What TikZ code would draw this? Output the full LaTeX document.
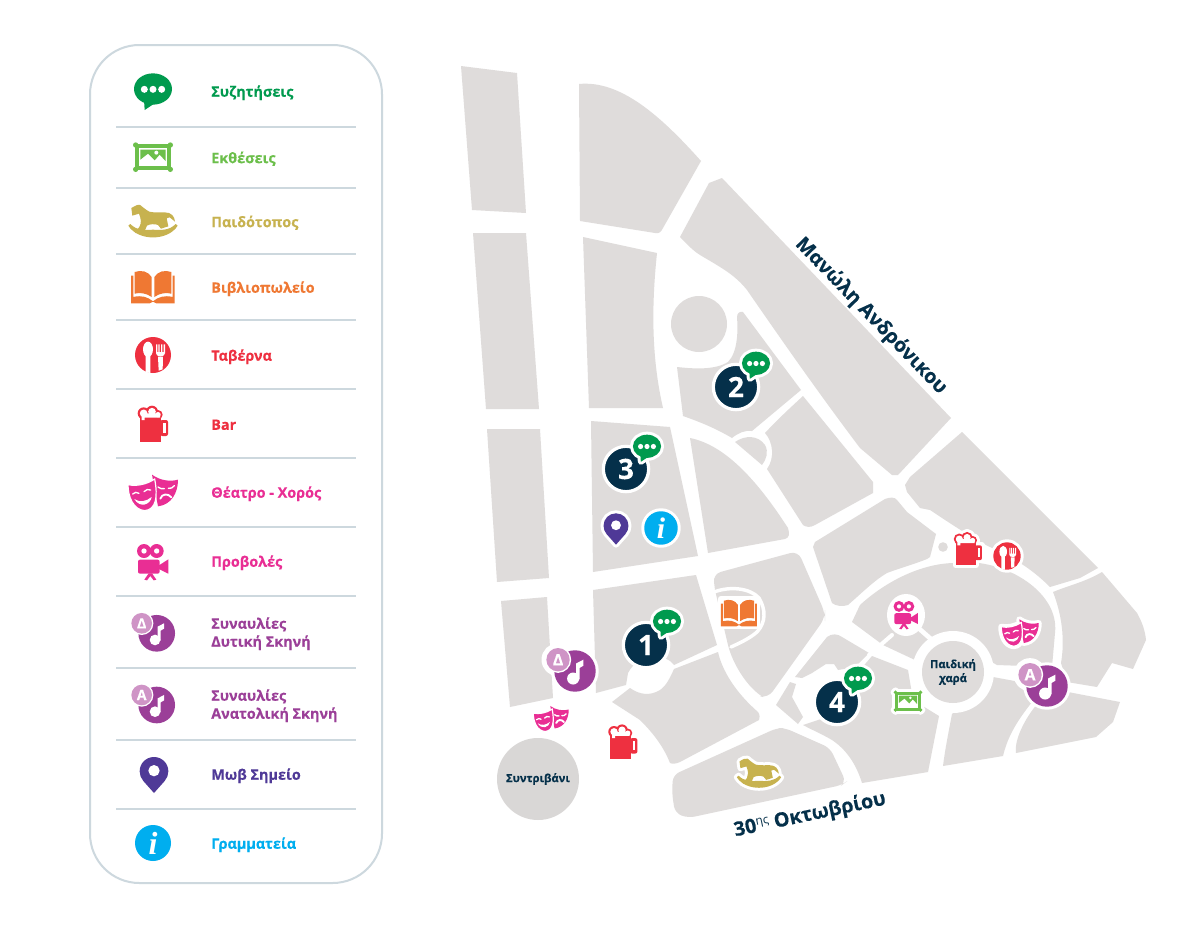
\documentclass[tikz,border=0pt]{standalone}
\usepackage{fontspec}
\setmainfont{Open Sans}[BoldFeatures={FakeBold=0.25}]
\definecolor{cblock}{HTML}{DFDCDB}
\definecolor{cfount}{HTML}{D9D7D6}
\definecolor{cnavy}{HTML}{05304A}
\definecolor{cchat}{HTML}{009A4E}
\definecolor{cframe}{HTML}{6CBF4B}
\definecolor{chorse}{HTML}{C7B24F}
\definecolor{cbook}{HTML}{EF7833}
\definecolor{cred}{HTML}{EE3040}
\definecolor{cpink}{HTML}{E92E94}
\definecolor{cpurple}{HTML}{9B3F98}
\definecolor{clilac}{HTML}{CF94C6}
\definecolor{cmauve}{HTML}{4F3997}
\definecolor{ccyan}{HTML}{00AEEF}
\definecolor{cline}{HTML}{CDD8DE}
\tikzset{
  hl/.style={},
  halo/.style={hl/.style={draw=white,fill=white,line width=4.5pt,line join=round}},
  blk/.style={fill=cblock},
  legtext/.style={font=\bfseries\fontsize{10.8}{13.5}\selectfont,anchor=west,align=left,inner sep=0pt,yshift=-1.3pt},
  road/.style={font=\bfseries\fontsize{14.8}{18}\selectfont,text=cnavy,inner sep=0pt},
  place/.style={font=\bfseries\fontsize{8.4}{10.5}\selectfont,text=cnavy,inner sep=0pt,align=center},
  badge/.style={circle,fill=cnavy,draw=white,line width=2.4pt,minimum size=34pt,inner sep=0pt,text=white,font=\bfseries\fontsize{21}{21}\selectfont},
  legline/.style={draw=cline,line width=1.5pt},
  wroad/.style={draw=white,line cap=round,line join=round},
  pics/icochat/.style={code={
    \begin{scope}[scale=1/3,shift={(-190,-150)}]
      \def\pa{(190,147) ellipse [x radius=57,y radius=47]}
      \def\pb{(163,180) -- (165,210) -- (195,190) -- cycle}
      \path[hl] \pa; \path[hl] \pb;
      \fill[cchat] \pa; \fill[cchat] \pb;
      \fill[white] (164,148) circle (10.5) (190,148) circle (10.5) (216,148) circle (10.5);
    \end{scope}}},
  pics/icoframe/.style={code={
    \begin{scope}[scale=1/3,shift={(-190,-352)}]
      \def\pa{(135,313) -- (135,392) -- (245,392) -- (245,313) -- cycle}
      \def\pb{(138,316) circle (8) (242,316) circle (8) (138,389) circle (8) (242,389) circle (8)}
      \path[hl] \pa; \path[hl] \pb;
      \fill[cframe] \pa; \fill[cframe] \pb;
      \fill[white] (148,326) -- (148,380) -- (232,380) -- (232,326) -- cycle;
      \fill[cframe] (152,330) -- (152,360) -- (175,342) -- (195,362) -- (210,345) -- (222,358) -- (228,364) -- (228,330) -- cycle;
      \fill[white] (200,339) circle (6);
    \end{scope}}},
  pics/icohorse/.style={code={
    \begin{scope}[scale=1/3,shift={(-190,-544)}]
      \def\pa{(125,505) -- (140,497) .. controls (150,493) and (155,497) .. (160,503) -- (172,512) .. controls (180,520) and (200,518) .. (225,518) .. controls (245,518) and (255,530) .. (256,546) -- (240,533) -- (231,536) -- (236,560) -- (214,567) -- (205,556) .. controls (195,552) and (180,553) .. (172,558) -- (165,574) -- (136,580) -- (150,560) .. controls (155,550) and (155,540) .. (148,522) -- (128,528) -- cycle}
      \def\pb{(116,558) -- (122,553) .. controls (140,572) and (165,572) .. (190,570) .. controls (215,572) and (240,572) .. (258,553) -- (264,558) .. controls (235,605) and (145,605) .. (116,558) -- cycle}
      \path[hl] \pa; \path[hl] \pb;
      \fill[chorse] \pa; \fill[chorse] \pb;
    \end{scope}}},
  pics/icobook/.style={code={
    \begin{scope}[scale=1/3,shift={(-190,-742)}]
      \def\pa{(135,697) .. controls (155,690) and (175,695) .. (186,712) -- (186,772) .. controls (170,760) and (150,758) .. (135,762) -- cycle}
      \def\pb{(245,697) .. controls (225,690) and (205,695) .. (194,712) -- (194,772) .. controls (210,760) and (230,758) .. (245,762) -- cycle}
      \def\pc{(124,708) -- (131,708) -- (131,772) .. controls (155,766) and (175,772) .. (190,785) .. controls (205,772) and (225,766) .. (249,772) -- (249,708) -- (255,708) -- (255,791) -- (200,791) -- (190,786) -- (180,791) -- (124,791) -- cycle}
      \path[hl] (124,690) -- (124,791) -- (255,791) -- (255,690) -- cycle;
      \fill[cbook] \pa; \fill[cbook] \pb; \fill[cbook] \pc;
    \end{scope}}},
  pics/icotav/.style={code={
    \begin{scope}[scale=1/3,shift={(-190,-75)}]
      \path[hl] (190,75) circle (54);
      \fill[cred] (190,75) circle (54);
      \fill[white] (175,58) ellipse [x radius=15,y radius=23];
      \fill[white] (168,75) -- (168,127) -- (182,129) -- (182,75) -- cycle;
      \fill[white] (205,80) -- (207,122) -- (219,118) -- (220,80) -- cycle;
      \fill[white] (199,43) -- (199,70) .. controls (199,82) and (226,82) .. (226,70) -- (226,43) -- (222,43) -- (222,66) -- (218,66) -- (218,43) -- (214,43) -- (214,66) -- (210,66) -- (210,43) -- (206,43) -- (206,66) -- (203,66) -- (203,43) -- cycle;
    \end{scope}}},
  pics/icobar/.style={code={
    \begin{scope}[scale=1/3,shift={(-190,-282)}]
      \def\pa{(150,262) -- (150,335) -- (215,335) -- (215,262) -- cycle}
      \def\pb{(212,270) -- (212,318) -- (235,318) -- (235,270) -- cycle}
      \def\pc{(162,250) circle (18) (187,245) circle (18) (205,254) circle (14)}
      \path[hl] \pa; \path[hl] \pb; \path[hl] \pc;
      \fill[cred] \pa; \fill[cred,rounded corners=1.5pt] \pb; \fill[cred] \pc;
      \fill[white] (162,250) circle (11.5) (187,245) circle (11.5) (205,254) circle (8);
      \fill[white] (156,250) -- (156,270) -- (165,270) -- (165,263) -- (211,263) -- (211,250) -- cycle;
      \fill[white] (221,280) -- (221,308) -- (228,308) -- (228,280) -- cycle;
    \end{scope}}},
  pics/icomask/.style={code={
    \begin{scope}[scale=1/3,shift={(-190,-490)}]
      \def\pa{(187,435) .. controls (210,452) and (240,457) .. (265,450) .. controls (265,490) and (245,525) .. (205,530) -- cycle}
      \def\pb{(115,465) .. controls (140,470) and (170,465) .. (195,448) .. controls (205,500) and (200,540) .. (165,543) .. controls (130,540) and (115,500) .. (115,465) -- cycle}
      \path[hl] \pa; \path[hl] \pb;
      \fill[cpink] \pa;
      \fill[cpink,draw=white,line width=.9pt] \pb;
      \draw[white,line width=1pt,line cap=round] (129,493) .. controls (135,487) and (142,487) .. (148,491);
      \draw[white,line width=1pt,line cap=round] (163,486) .. controls (168,479) and (176,478) .. (183,481);
      \fill[white] (134,508) .. controls (150,520) and (170,515) .. (186,502) .. controls (182,526) and (150,536) .. (134,508) -- cycle;
      \draw[white,line width=1pt,line cap=round] (205,472) .. controls (210,477) and (218,478) .. (224,477);
      \draw[white,line width=1pt,line cap=round] (236,476) .. controls (242,478) and (250,474) .. (254,468);
      \draw[white,line width=1.4pt,line cap=round] (212,507) .. controls (217,492) and (235,490) .. (245,503);
    \end{scope}}},
  pics/icocam/.style={code={
    \begin{scope}[scale=1/3,shift={(-190,-695)}]
      \def\pa{(163,662) circle (21) (201,662) circle (21)}
      \def\pb{(145,688) -- (145,730) -- (210,730) -- (210,688) -- cycle}
      \def\pc{(208,705) -- (208,716) -- (236,730) -- (236,687) -- cycle}
      \def\pd{(177,729) -- (164,748) -- (172,750) -- (182,737) -- (192,750) -- (200,748) -- (187,729) -- cycle}
      \path[hl] \pa; \path[hl] \pb; \path[hl] \pc; \path[hl] \pd;
      \fill[cpink] \pa; \fill[cpink,rounded corners=1.5pt] \pb; \fill[cpink] \pc; \fill[cpink] \pd;
      \fill[white] (163,662) circle (8) (201,662) circle (8);
    \end{scope}}},
  pics/icomusic/.style={code={
    \begin{scope}[scale=1/3,shift={(-200,-130)}]
      \path[hl] (200,130) circle (55); \path[hl] (155,100) circle (36);
      \fill[cpurple] (200,130) circle (55);
      \fill[white] (195,150) circle (16);
      \fill[white] (203,110) -- (203,152) -- (212,152) -- (212,122) -- (222,116) -- (222,100) -- cycle;
      \fill[white] (155,100) circle (35);
      \fill[clilac] (155,100) circle (31);
    \end{scope}
    \node[transform shape,text=white,inner sep=0pt,font=\bfseries\fontsize{10.5}{10.5}\selectfont] (-letter) at (-15,-10) {#1};}},
  pics/icopin/.style={code={
    \begin{scope}[scale=1/3,shift={(-193,-554)}]
      \def\pa{(193,608) -- (161,572) .. controls (154,564) and (150,554) .. (150,543) .. controls (150,519) and (169,500) .. (193,500) .. controls (217,500) and (236,519) .. (236,543) .. controls (236,554) and (232,564) .. (225,572) -- cycle}
      \path[hl] \pa;
      \fill[cmauve] \pa;
      \fill[white] (193,541) circle (17);
    \end{scope}}},
  pics/icoinfo/.style={code={
    \begin{scope}[scale=1/3,shift={(-190,-760)}]
      \path[hl] (190,760) circle (54);
      \fill[ccyan] (190,760) circle (54);
    \end{scope}
    \node[transform shape,text=white,inner sep=0pt,font=\fontspec{Liberation Serif}\bfseries\itshape\fontsize{24}{24}\selectfont] (-letter) at (0,0) {i};}},
}
\begin{document}
\begin{tikzpicture}[x=0.75pt,y=-0.75pt]
\useasboundingbox (0,0) rectangle (1200,928);
\fill[white] (0,0) rectangle (1200,928);

% ---------- map blocks
\fill[blk] (461,66) -- (517,73) -- (526,213) -- (472,210) -- cycle;
\fill[blk] (579,84) .. controls (620,80) and (660,115) .. (701,161) -- (663,228) .. controls (661,232) and (659,234) .. (655,233) -- (580,221) -- cycle;
\fill[blk] (473,233) -- (526,233) -- (539,409) -- (486,409) -- cycle;
\fill[blk] (583,237) -- (657,253) .. controls (651,310) and (652,360) .. (663,408) -- (589,408) -- cycle;
\fill[blk] (699,324) circle (28);
\fill[blk] (709,183) -- (722,178) -- (951,418) -- (898,475) -- (892,475) -- (860,448) .. controls (820,395) and (785,345) .. (747,290) .. controls (735,275) and (722,268) .. (700,255) .. controls (692,250) and (686,243) .. (680,237) -- cycle;
\fill[blk] (677,367) .. controls (695,369) and (715,370) .. (728,362) .. controls (738,352) and (738,330) .. (737,317) .. controls (737,313) and (740,311) .. (743,312) -- (801,390) -- (752,431) .. controls (745,430) and (738,433) .. (732,438) .. controls (715,428) and (700,422) .. (683,416) -- cycle;
\fill[blk] (803,396) -- (873,482) -- (873,493) -- (815,525) .. controls (810,528) and (806,527) .. (803,525) -- (767,469) .. controls (775,458) and (773,442) .. (765,433) .. controls (777,420) and (790,408) .. (803,396) -- cycle;
\fill[blk] (735,442) .. controls (745,435) and (758,435) .. (765,445) .. controls (769,452) and (766,460) .. (762,465) -- cycle;
\fill[blk] (690,438) .. controls (725,445) and (757,480) .. (788,528) .. controls (790,534) and (789,538) .. (785,539) -- (708,553) -- cycle;
\fill[blk] (591,421) -- (670,427) -- (698,556) -- (593,572) -- cycle;
\fill[blk] (487,429) -- (540,429) -- (549,578) -- (497,582) -- cycle;
\fill[blk] (501,601) -- (547,597) -- (553,698) -- (510,707) -- cycle;
\fill[blk] (593,590) -- (696,575) -- (717,645) -- (674,665) .. controls (668,655) and (640,650) .. (628,673) -- (626,685) -- (596,693) -- cycle;
\fill[blk] (612,702) -- (630,688) .. controls (640,695) and (650,696) .. (660,690) .. controls (666,686) and (670,678) .. (674,669) -- (718,652) .. controls (722,670) and (735,692) .. (758,712) .. controls (760,715) and (760,718) .. (759,720) -- (680,762) .. controls (676,764) and (672,764) .. (670,763) .. controls (664,748) and (655,735) .. (640,720) -- cycle;
\fill[blk] (715,590) [rounded corners=6pt] -- (713,574) -- (798,551) -- (825,613) -- (825,618) -- (768,698) [sharp corners] -- (763,697) .. controls (748,688) and (733,665) .. (728,645) -- cycle;
\fill[blk,rounded corners=5pt] (672,793) -- (673,775) -- (777,728) -- (785,728) -- (830,748) -- (846,782) -- (842,785) -- (688,818) -- (675,813) -- cycle;
\fill[blk] (776,705) -- (790,682) -- (796,684) -- (792,697) -- (803,717) -- (798,724) -- cycle;
\fill[blk] (795,677) -- (827,637) .. controls (832,633) and (838,634) .. (842,637) -- (869,653) -- (855,667) -- (838,670) -- (834,664) -- (826,664) -- (812,673) -- (802,678) -- cycle;
\fill[blk] (860,670) -- (872,656) -- (908,670) -- (913,700) -- (939,716) -- (928,772) -- (862,783) .. controls (858,770) and (850,752) .. (832,740) .. controls (820,733) and (812,730) .. (803,725) -- (830,716) -- cycle;
\fill[blk] (852,622) -- (860,605) .. controls (885,582) and (920,564) .. (953,563) .. controls (1000,556) and (1060,590) .. (1055,633) -- (1052,667) -- (997,665) -- (953,640) -- (915,660) -- (883,645) -- cycle;
\fill[blk] (993,677) -- (1020,682) -- (1032,702) .. controls (1018,720) and (1008,735) .. (1003,756) -- (943,766) .. controls (945,750) and (948,735) .. (952,714) -- cycle;
\fill[blk] (1068,692) -- (1120,702) -- (1113,722) -- (1096,737) -- (1016,753) .. controls (1014,740) and (1025,718) .. (1038,703) -- cycle;
\fill[blk] (1053,592) .. controls (1070,585) and (1085,582) .. (1102,572) -- (1137,613) .. controls (1142,622) and (1145,630) .. (1146,640) -- (1133,669) -- (1112,663) -- (1097,687) -- (1067,682) -- (1061,663) .. controls (1065,640) and (1062,615) .. (1053,592) -- cycle;
\fill[blk] (962,432) -- (1098,568) -- (1080,578) -- (1050,587) .. controls (1030,567) and (1010,556) .. (990,547) .. controls (975,540) and (945,520) .. (930,510) -- (920,508) -- (907,492) -- (905,485) -- (910,477) -- cycle;
\fill[blk] (813,547) -- (815,542) -- (885,499) .. controls (890,497) and (895,497) .. (897,500) -- (907,512) -- (936,534) -- (930,557) -- (927,559) .. controls (912,565) and (900,568) .. (887,573) .. controls (875,580) and (865,590) .. (848,605) .. controls (842,607) and (836,606) .. (832,603) -- cycle;
\fill[blk] (943,547) circle (4.8);

% ---------- thin roads and rings
\draw[wroad,line width=2.6pt] (714,592) .. controls (730,586) and (750,588) .. (759,598) .. controls (766,610) and (766,622) .. (757,632) .. controls (750,638) and (742,642) .. (731,647);
\draw[wroad,line width=3pt] (869,655) -- (892,635);
\draw[wroad,line width=3.5pt] (915,625) -- (932,640);
\fill[white] (953,672) circle (41);
\fill[white] (906,615) ellipse [x radius=19,y radius=21];
\fill[blk] (953,672) circle (31);
\node[place] (playground) at (953,672) {Παιδική\\χαρά};
\fill[cfount] (538,779) circle (41);
\node[place] (fountain) at (538,779) {Συντριβάνι};

% ---------- street names
\node[road,rotate=-46] (street1) at (871,316) {Μανώλη Ανδρόνικου};
\node[road,rotate=12] (street2) at (810,815) {30\raisebox{.55ex}{\fontsize{9}{9}\selectfont\mdseries ης} Οκτωβρίου};

% ---------- legend
\draw[cline,line width=1.5pt,rounded corners=37pt] (90,45) rectangle (382,883);
\foreach \yy/\nm in {127/a,188/b,254/c,320/d,389/e,458/f,527/g,596/h,668/i,740/j,809/k}
  \draw[legline] (116,\yy) coordinate (l\nm a) -- (356,\yy) coordinate (l\nm b);

\pic (lg1) at (153,90) {icochat};
\pic (lg2) at (153,157) {icoframe};
\pic (lg3) at (153,221) {icohorse};
\pic (lg4) at (153,287) {icobook};
\pic (lg5) at (153,355) {icotav};
\pic (lg6) at (153,424) {icobar};
\pic (lg7) at (153,493) {icomask};
\pic (lg8) at (153,562) {icocam};
\pic (lg9) at (156.7,633.3) {icomusic=Δ};
\pic (lg10) at (156.7,705) {icomusic=Α};
\pic (lg11) at (154,775) {icopin};
\pic (lg12) at (153,843) {icoinfo};

\node[legtext,text=cchat] (t1) at (211,91) {Συζητήσεις};
\node[legtext,text=cframe] (t2) at (211,157) {Εκθέσεις};
\node[legtext,text=chorse] (t3) at (211,221) {Παιδότοπος};
\node[legtext,text=cbook] (t4) at (211,287) {Βιβλιοπωλείο};
\node[legtext,text=cred] (t5) at (211,355) {Ταβέρνα};
\node[legtext,text=cred] (t6) at (211,423) {Bar};
\node[legtext,text=cpink] (t7) at (211,492) {Θέατρο - Χορός};
\node[legtext,text=cpink] (t8) at (211,561) {Προβολές};
\node[legtext,text=cpurple] (t9) at (211,632) {Συναυλίες\\Δυτική Σκηνή};
\node[legtext,text=cpurple] (t10) at (211,704) {Συναυλίες\\Ανατολική Σκηνή};
\node[legtext,text=cmauve] (t11) at (211,774) {Μωβ Σημείο};
\node[legtext,text=ccyan] (t12) at (211,843) {Γραμματεία};

% ---------- map markers
\node[badge] (n1) at (646,645) {1};
\node[badge] (n2) at (736,387) {2};
\node[badge] (n3) at (626,469) {3};
\node[badge] (n4) at (837,702) {4};
\pic[scale=.74,halo] (m1) at (667,622) {icochat};
\pic[scale=.74,halo] (m2) at (756,364) {icochat};
\pic[scale=.74,halo] (m3) at (647,447) {icochat};
\pic[scale=.74,halo] (m4) at (858,679) {icochat};
\pic[scale=.87,halo] (mpin) at (616,529) {icopin};
\pic[scale=.93,halo] (minfo) at (661,528) {icoinfo};
\pic[scale=.82,halo] (mbook) at (739,613) {icobook};
\pic[scale=.71] (mmask1) at (551,719) {icomask};
\pic[scale=.96] (mbar1) at (623,742) {icobar};
\pic[scale=.9,halo] (mhorse) at (759,773) {icohorse};
\pic[scale=.72,halo] (mframe) at (908,701) {icoframe};
\pic[scale=.78,halo] (mcam) at (906,615) {icocam};
\pic[scale=.93,halo] (mbar2) at (968,549) {icobar};
\pic[scale=.76,halo] (mtav) at (1007,556) {icotav};
\pic[scale=.75,halo] (mmask2) at (1020,633) {icomask};
\pic[scale=1.13,halo] (mmusd) at (575,671) {icomusic=Δ};
\pic[scale=1.13,halo] (mmusa) at (1047,686) {icomusic=Α};
\end{tikzpicture}
\end{document}
